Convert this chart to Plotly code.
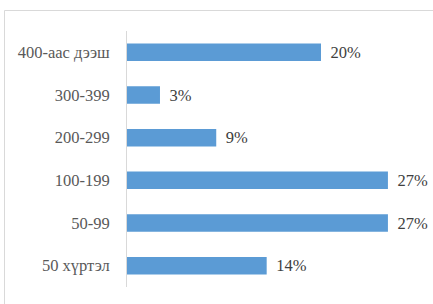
import plotly.graph_objects as go

categories = ["50 хүртэл", "50-99", "100-199", "200-299", "300-399", "400-аас дээш"]
values = [14.4, 26.9, 26.9, 9.2, 3.4, 20.0]
labels = ["14%", "27%", "27%", "9%", "3%", "20%"]

W, H = 433, 304
L, R, T, B = 127, 15, 31, 17
xmax = 30
SERIF = "'Liberation Serif', 'Times New Roman', Times, serif"

fig = go.Figure(go.Bar(
    y=categories, x=values, orientation="h",
    marker=dict(color="#5B9BD5", line=dict(width=0)),
    width=0.41,
    text=["\u2009\u2009" + s for s in labels], textposition="outside", cliponaxis=False,
    constraintext="none",
    textfont=dict(family=SERIF, size=16.5, color="#404040"),
    hoverinfo="skip",
))

pw = W - L - R
ph = H - T - B
def px(x):
    return (x - L) / pw
def py(y):
    return 1 - (y - T) / ph

fig.add_shape(type="rect", xref="paper", yref="paper",
              x0=px(4.5), x1=px(445), y0=py(10.5), y1=py(320),
              line=dict(color="#d9d9d9", width=1), fillcolor="rgba(0,0,0,0)", layer="below")

fig.update_layout(
    width=W, height=H,
    margin=dict(l=L, r=R, t=T, b=B, autoexpand=False),
    paper_bgcolor="white", plot_bgcolor="white",
    showlegend=False,
    xaxis=dict(range=[0, xmax], visible=False, fixedrange=True, automargin=False),
    yaxis=dict(showline=True, linecolor="#d9d9d9", linewidth=1, ticks="", showgrid=False,
               tickfont=dict(family=SERIF, size=16.5, color="#595959"),
               ticklabelstandoff=13, zeroline=False, automargin=False),
    font=dict(family=SERIF),
)

fig.write_html("out.html", config={"displayModeBar": False},
               post_script="document.body.style.margin='0';document.body.style.padding='0';")
